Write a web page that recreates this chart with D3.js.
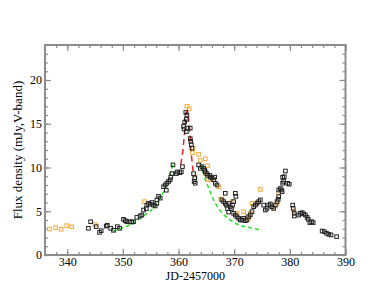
<!DOCTYPE html>
<html>
<head>
<meta charset="utf-8">
<script src="https://cdn.jsdelivr.net/npm/d3@7"></script>
<style>
  body { margin: 0; background: #fff; }
  text { font-family: "Liberation Serif", "DejaVu Serif", serif; }
</style>
</head>
<body>
<div id="chart"></div>
<script>
// tick values
var xMajor = [340, 350, 360, 370, 380, 390];
var yMajor = [0, 5, 10, 15, 20];

// black squares: [JD-2457000, flux]
var blackPts = [
  [343.8,3.05],[344.2,3.8],[345.2,3.24],[345.8,2.59],[346.1,2.78],[347.0,3.3],[347.2,3.4],
  [347.8,3.05],[348.3,2.82],[349.0,3.24],[349.4,3.05],[350.1,4.08],[350.4,3.93],[350.7,3.8],
  [351.2,3.8],[351.6,3.77],[351.9,3.8],[352.5,4.3],[353.1,4.46],[353.4,4.57],[353.7,5.14],
  [354.2,5.3],[354.3,5.7],[354.6,5.9],[354.9,5.8],[355.2,6.0],[355.5,5.7],[355.8,5.6],
  [356.1,5.9],[356.1,6.3],[356.4,6.7],[356.7,6.5],[357.3,7.8],[357.6,8.0],[357.8,7.4],
  [357.9,8.2],[358.2,8.4],[358.5,8.6],[358.6,8.9],[358.8,9.3],[359.0,10.3],[359.6,9.3],
  [359.8,9.5],[360.2,9.4],[360.5,9.5],[360.7,10.1],[360.9,14.7],[361.0,14.4],[361.1,15.2],
  [361.3,16.3],[361.4,15.5],[361.4,14.1],[361.5,16.0],[361.6,14.5],[362.1,14.5],[362.1,13.3],
  [362.2,13.0],[362.3,12.6],[362.4,12.2],[362.7,9.3],[362.8,8.4],[362.9,8.8],[363.0,8.2],
  [363.6,10.3],[363.9,9.9],[364.2,10.1],[364.5,9.9],[364.7,9.7],[364.8,9.5],[365.1,9.3],
  [365.2,9.1],[365.6,9.1],[365.7,8.9],[366.0,8.8],[366.3,8.6],[366.5,8.9],[366.6,8.2],
  [366.9,8.0],[367.8,6.3],[368.1,6.1],[368.4,5.9],[368.4,7.05],[368.6,5.7],[368.8,5.3],
  [369.0,4.9],[369.0,5.9],[369.3,5.5],[369.5,5.3],[369.7,5.7],[369.9,6.1],[369.9,4.76],
  [370.2,7.05],[370.3,6.7],[370.2,4.57],[370.5,4.38],[370.8,4.19],[371.1,4.0],[371.4,4.0],
  [371.7,4.19],[372.0,3.92],[372.3,4.0],[372.6,4.38],[372.9,4.57],[373.2,4.95],[373.5,5.52],
  [373.8,5.7],[374.1,5.9],[374.4,6.1],[374.7,6.3],[375.3,5.7],[375.6,5.14],[375.9,5.33],
  [376.2,5.7],[376.5,5.83],[376.8,5.52],[377.1,5.33],[377.4,5.7],[377.7,6.1],[377.9,6.36],
  [378.0,6.67],[378.0,7.43],[378.3,7.6],[378.5,7.43],[378.6,7.24],[378.7,8.2],[378.7,8.88],
  [378.9,8.4],[379.0,8.95],[379.2,9.6],[379.6,8.2],[379.9,8.1],[380.5,5.7],[380.6,5.33],
  [380.8,4.76],[380.8,4.46],[381.6,4.57],[381.9,4.76],[382.2,4.84],[382.5,4.69],[382.8,4.57],
  [383.1,4.3],[383.3,4.08],[383.6,3.7],[383.9,3.81],[384.2,3.7],[385.8,2.74],[386.2,2.67],
  [386.6,2.48],[387.0,2.36],[387.4,2.29],[388.4,2.1]
];

// orange squares
var orangePts = [
  [336.8,2.97],[337.9,3.12],[338.9,2.94],[339.9,3.35],[340.8,3.23],[345.0,3.47],[353.9,6.1],
  [361.5,17.0],[361.9,16.7],[362.5,11.7],[362.6,12.2],[363.0,8.9],[363.6,11.5],[363.9,10.8],
  [364.8,11.0],[364.8,9.3],[365.2,10.2],[365.4,8.6],[366.3,8.6],[367.2,7.8],[367.6,6.4],
  [369.6,6.1],[370.5,4.76],[371.7,4.95],[372.3,4.38],[372.6,4.19],[372.9,4.76],[373.2,5.9],
  [374.1,6.0],[374.7,7.5],[377.1,5.33],[377.7,5.9],[378.0,7.1],[380.7,5.03]
];

// fitted curves
var greenRise = [[348.2,2.7],[350,3.1],[352,3.7],[354,4.6],[355.5,5.4],[356.5,6.3],[357.5,7.5],[358.3,8.8],[359.0,10.4]];
var redPeak = [[360.4,10.3],[360.8,12.0],[361.1,14.2],[361.4,16.3],[361.6,16.5],[361.8,15.6],[362.1,13.5],[362.3,11.5],[362.6,9.6]];
var greenFall = [[364.1,10.4],[364.6,9.0],[365.2,8.0],[366,6.7],[367,5.5],[368,4.7],[369.5,3.9],[371,3.4],[373,3.1],[375,2.8]];

var width = 388, height = 300;
var margin = {top: 45, right: 42.5, bottom: 45, left: 45};

var x = d3.scaleLinear().domain([336, 390]).range([margin.left, width - margin.right]);
var y = d3.scaleLinear().domain([0, 24]).range([height - margin.bottom, margin.top]);

var svg = d3.select("#chart").append("svg")
    .attr("width", width)
    .attr("height", height);

var axisColor = "#8c8c8c";
var xMinor = d3.range(336, 391, 2);
var yMinor = d3.range(0, 25, 1);

function styleAxis(g) {
  g.select(".domain").remove();
  g.selectAll("line").attr("stroke", axisColor).attr("stroke-width", 1.2);
  g.selectAll("text").attr("fill", "#000").style("font-size", "12px");
}

// minor ticks (inward)
svg.append("g").attr("transform", "translate(0," + y(0) + ")")
  .call(d3.axisTop(x).tickValues(xMinor).tickSize(3).tickFormat(""))
  .call(styleAxis);
svg.append("g").attr("transform", "translate(0," + y(24) + ")")
  .call(d3.axisBottom(x).tickValues(xMinor).tickSize(3).tickFormat(""))
  .call(styleAxis);
svg.append("g").attr("transform", "translate(" + x(336) + ",0)")
  .call(d3.axisRight(y).tickValues(yMinor).tickSize(3).tickFormat(""))
  .call(styleAxis);
svg.append("g").attr("transform", "translate(" + x(390) + ",0)")
  .call(d3.axisLeft(y).tickValues(yMinor).tickSize(3).tickFormat(""))
  .call(styleAxis);

// major ticks
var xAxis = svg.append("g").attr("transform", "translate(0," + y(0) + ")")
  .call(d3.axisTop(x).tickValues(xMajor).tickSize(6).tickFormat(d3.format("d")))
  .call(styleAxis);
xAxis.selectAll("text").attr("y", 11).attr("dy", "0");
svg.append("g").attr("transform", "translate(0," + y(24) + ")")
  .call(d3.axisBottom(x).tickValues(xMajor).tickSize(6).tickFormat(""))
  .call(styleAxis);
var yAxis = svg.append("g").attr("transform", "translate(" + x(336) + ",0)")
  .call(d3.axisRight(y).tickValues(yMajor).tickSize(6).tickFormat(d3.format("d")))
  .call(styleAxis);
yAxis.selectAll("text").attr("x", -3).attr("text-anchor", "end");
svg.append("g").attr("transform", "translate(" + x(390) + ",0)")
  .call(d3.axisLeft(y).tickValues(yMajor).tickSize(6).tickFormat(""))
  .call(styleAxis);

// frame
svg.append("rect")
  .attr("x", x(336)).attr("y", y(24))
  .attr("width", x(390) - x(336)).attr("height", y(0) - y(24))
  .attr("fill", "none").attr("stroke", axisColor).attr("stroke-width", 2);

// curves
var line = d3.line()
  .x(function(d) { return x(d[0]); })
  .y(function(d) { return y(d[1]); })
  .curve(d3.curveMonotoneX);

[greenRise, greenFall].forEach(function(c) {
  svg.append("path").datum(c)
    .attr("fill", "none").attr("stroke", "#22e022")
    .attr("stroke-width", 1.5).attr("stroke-dasharray", "4,3")
    .attr("d", line);
});
svg.append("path").datum(redPeak)
  .attr("fill", "none").attr("stroke", "#e8202a")
  .attr("stroke-width", 1.5).attr("stroke-dasharray", "6,4")
  .attr("d", d3.line().x(function(d) { return x(d[0]); }).y(function(d) { return y(d[1]); }));

// points
var s = 3.6;
svg.append("g").selectAll("rect").data(orangePts).join("rect")
  .attr("x", function(d) { return x(d[0]) - s / 2; })
  .attr("y", function(d) { return y(d[1]) - s / 2; })
  .attr("width", s).attr("height", s)
  .attr("fill", "none").attr("stroke", "#f4a93a").attr("stroke-width", 1);
svg.append("g").selectAll("rect").data(blackPts).join("rect")
  .attr("x", function(d) { return x(d[0]) - s / 2; })
  .attr("y", function(d) { return y(d[1]) - s / 2; })
  .attr("width", s).attr("height", s)
  .attr("fill", "none").attr("stroke", "#222").attr("stroke-width", 1);

// axis titles
svg.append("text")
  .attr("x", (x(336) + x(390)) / 2).attr("y", 280)
  .attr("text-anchor", "middle").style("font-size", "12px")
  .text("JD-2457000");
svg.append("text")
  .attr("transform", "translate(22," + ((y(0) + y(24)) / 2) + ") rotate(-90)")
  .attr("text-anchor", "middle").style("font-size", "13px")
  .text("Flux density (mJy,V-band)");
</script>
</body>
</html>
